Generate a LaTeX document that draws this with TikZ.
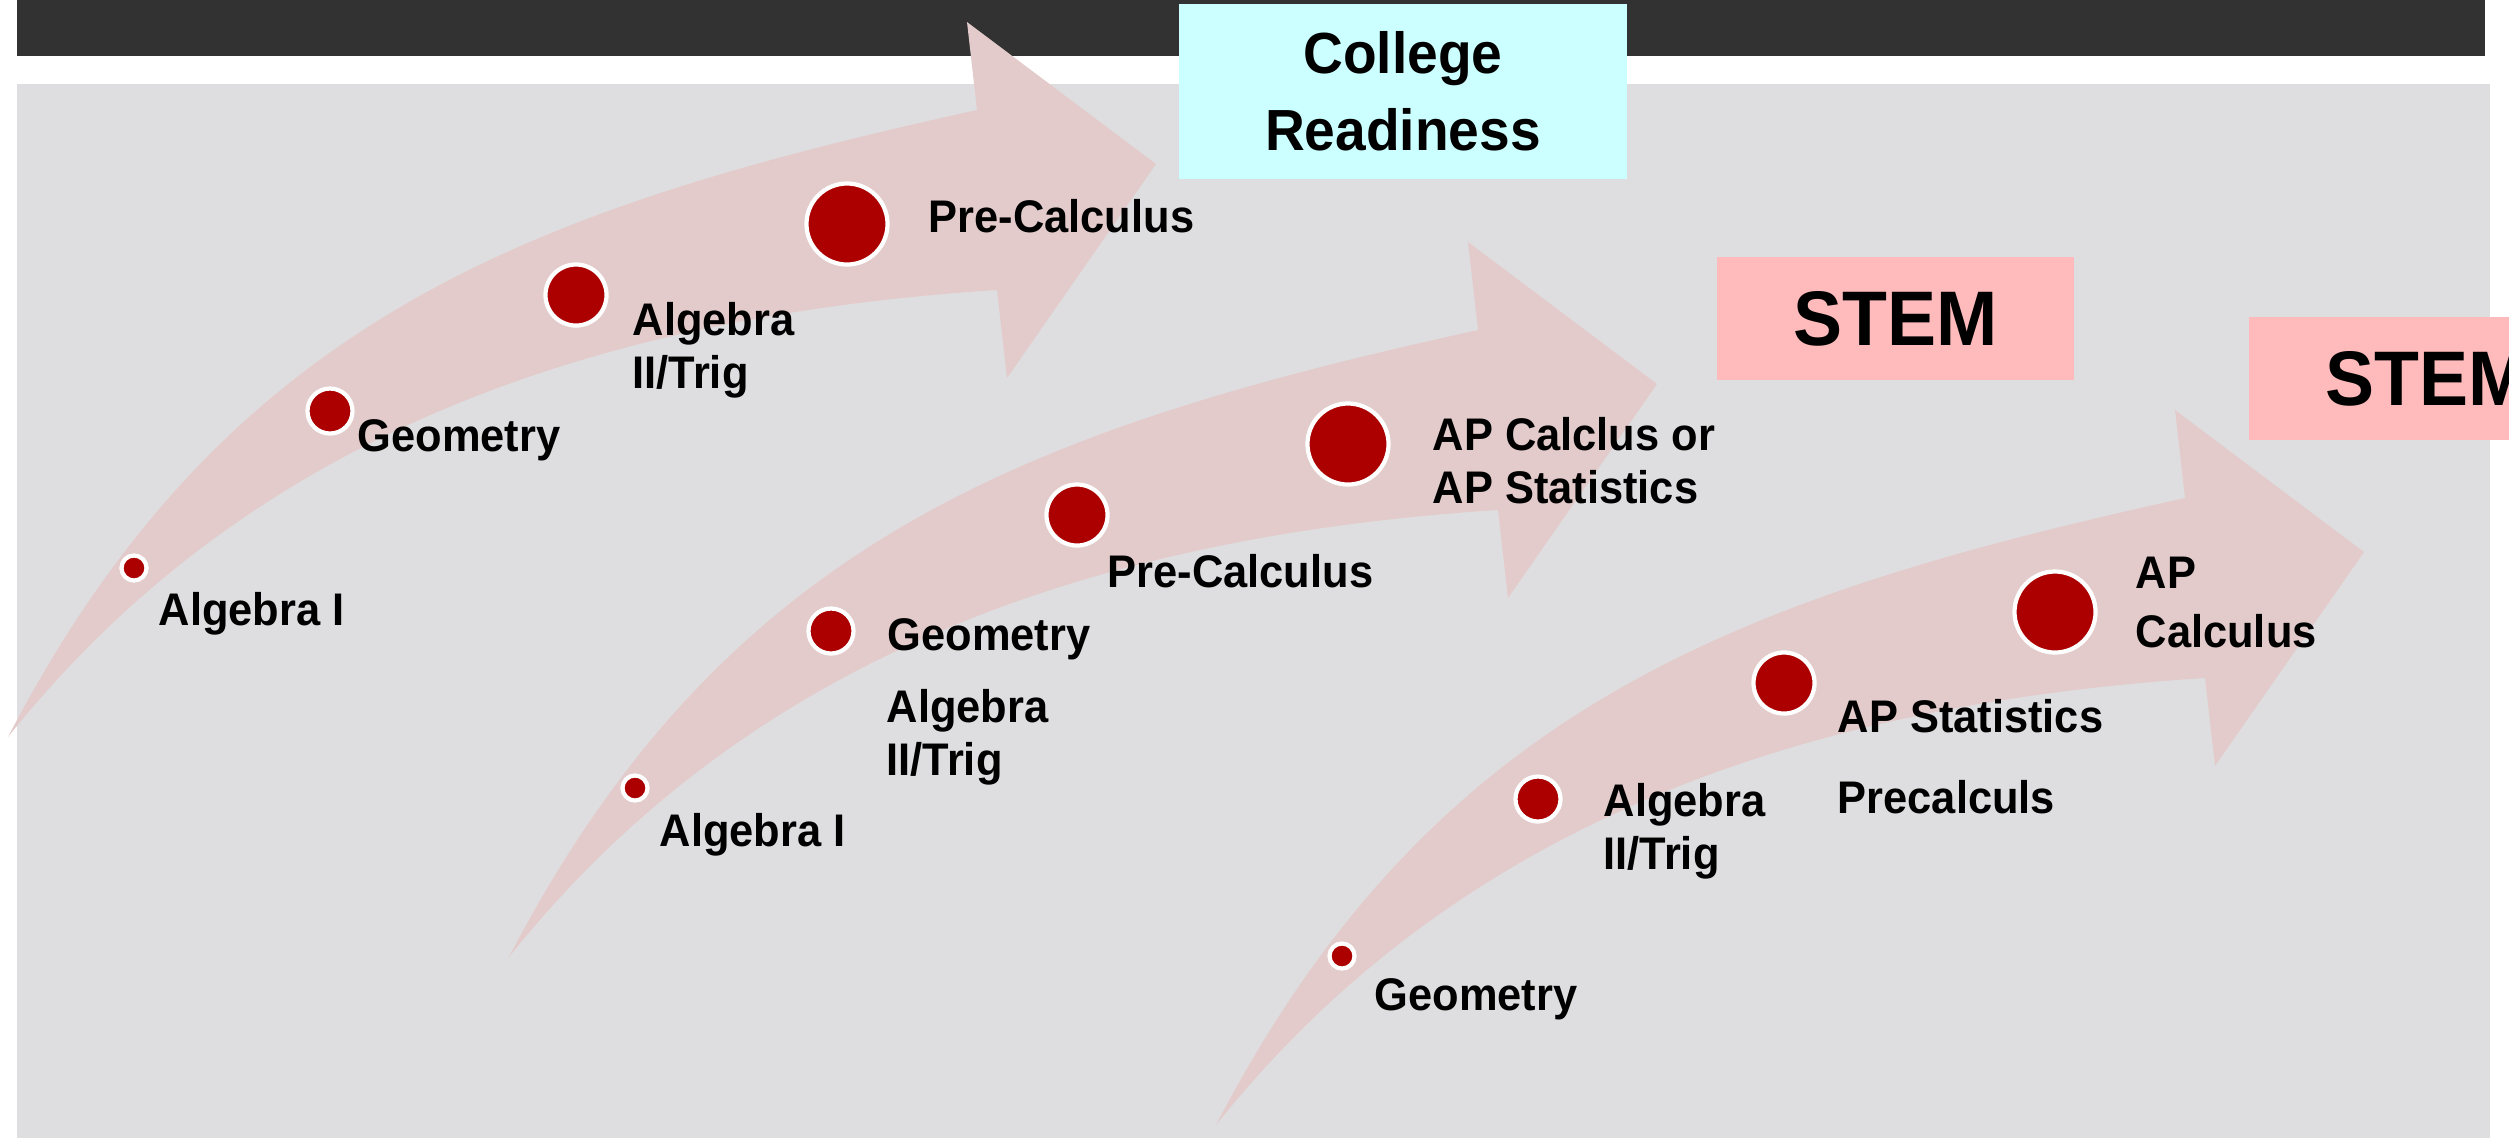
\documentclass[tikz,border=0pt]{standalone}
\usepackage{fontspec}
\setmainfont{Liberation Sans}[FakeStretch=0.95]
\definecolor{slidegray}{RGB}{222,222,224}
\definecolor{barblack}{RGB}{50,50,50}
\definecolor{arrowpink}{RGB}{227,203,203}
\definecolor{dotred}{RGB}{172,0,0}
\definecolor{readycyan}{RGB}{204,255,255}
\definecolor{stempink}{RGB}{255,187,187}
\begin{document}
\begin{tikzpicture}[x=0.01cm, y=-0.01cm,
  dot/.style={circle, fill=dotred, draw=white, line width=1.2pt, inner sep=0pt},
  lbl/.style={anchor=base west, inner sep=0pt, align=left, font=\bfseries\fontsize{13}{15}\selectfont},
  goal/.style={inner sep=0pt, align=center, font=\bfseries\fontsize{16.5}{21.9}\selectfont},
  stembox/.style={fill=stempink, inner sep=0pt, minimum width=3.57cm, minimum height=1.23cm, font=\bfseries\fontsize{22}{26}\selectfont}]
  \useasboundingbox (0,0) rectangle (2509,1138);
  \clip (0,0) rectangle (2509,1138);
  % slide background and title bar
  \fill[slidegray] (17,84) rectangle (2490,1138);
  \fill[barblack] (17,0) rectangle (2485,56);
  % three rising arrows, one shape shifted
  \foreach \dx/\dy in {0/0, 501/220, 1208/388}
    \fill[arrowpink, shift={(\dx,\dy)}] (8,737) .. controls (225,320) and (527,209) .. (977,110)
      -- (967,22) -- (1156,164) -- (1007,378) -- (997,290)
      .. controls (560,318) and (233,455) .. (8,737) -- cycle;
  % path 1 (two-line labels sit on their last baseline)
  \node[dot, minimum size=0.25cm] (a1) at (134,568) {};
  \node[dot, minimum size=0.45cm] (b1) at (330,411) {};
  \node[dot, minimum size=0.61cm] (c1) at (576,295) {};
  \node[dot, minimum size=0.81cm] (d1) at (847,224) {};
  \node[lbl] (la1) at (158,625) {Algebra I};
  \node[lbl] (lb1) at (357,451) {Geometry};
  \node[lbl] (lc1) at (632,388) {Algebra\\II/Trig};
  \node[lbl] (ld1) at (928,232) {Pre-Calculus};
  % path 2
  \node[dot, minimum size=0.25cm] (a2) at (635,788) {};
  \node[dot, minimum size=0.45cm] (b2) at (831,631) {};
  \node[dot, minimum size=0.61cm] (c2) at (1077,515) {};
  \node[dot, minimum size=0.81cm] (d2) at (1348,444) {};
  \node[lbl] (la2) at (659,846) {Algebra I};
  \node[lbl] (lb2) at (887,650) {Geometry};
  \node[lbl] (lb2x) at (886,775) {Algebra\\II/Trig};
  \node[lbl] (lc2) at (1107,587) {Pre-Calculus};
  \node[lbl] (ld2) at (1432,503) {AP Calclus or\\AP Statistics};
  % path 3
  \node[dot, minimum size=0.25cm] (a3) at (1342,956) {};
  \node[dot, minimum size=0.45cm] (b3) at (1538,799) {};
  \node[dot, minimum size=0.61cm] (c3) at (1784,683) {};
  \node[dot, minimum size=0.81cm] (d3) at (2055,612) {};
  \node[lbl] (la3) at (1374,1010) {Geometry};
  \node[lbl] (lb3) at (1603,869) {Algebra\\II/Trig};
  \node[lbl] (lc3) at (1837,732) {AP Statistics};
  \node[lbl] (lc3x) at (1837,813) {Precalculs};
  \node[lbl, font=\bfseries\fontsize{13}{16.6}\selectfont] (ld3) at (2135,647) {AP\\Calculus};
  % goals
  \node[goal, fill=readycyan, minimum width=4.48cm, minimum height=1.75cm] (college) at (1403,91.5) {College\\Readiness};
  \node[stembox] (stem1) at (1895.5,318.5) {STEM};
  \node[stembox] (stem2) at (2427.5,378.5) {STEM};
\end{tikzpicture}
\end{document}
